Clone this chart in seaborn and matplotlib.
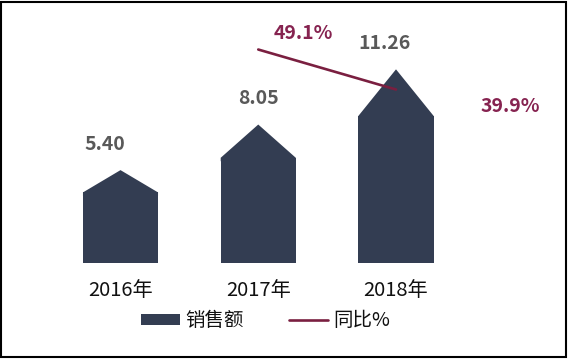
import numpy as np
import pandas as pd
import matplotlib
matplotlib.use('Agg')
import matplotlib.pyplot as plt
from matplotlib.patches import Polygon, Patch, Rectangle
from matplotlib.lines import Line2D
import seaborn as sns

# data
years = ['2016年', '2017年', '2018年']
sales = [5.40, 8.05, 11.26]
yoy_years = [1, 2]          # index of 2017 and 2018
yoy = [49.1, 39.9]
sales_labels = ['5.40', '8.05', '11.26']
yoy_labels = ['49.1%', '39.9%']

bar_color = '#333d52'
line_color = '#7a1f40'
pct_color = '#862350'
value_color = '#595959'
roof = 0.76  # shoulder height as share of the peak

sns.set_theme(style='white')
plt.rcParams['font.family'] = ['Noto Sans CJK SC', 'DejaVu Sans']

W, H = 568, 359
fig = plt.figure(figsize=(W / 100, H / 100), dpi=100)
fig.patch.set_facecolor('white')

# axes bottom sits on the bar baseline
base_px = 263
top_px = 10
ax = fig.add_axes([0, (H - base_px) / H, 1, (base_px - top_px) / H])

df = pd.DataFrame({'year': years, 'sales': sales})
df['shoulder'] = df['sales'] * roof

sns.barplot(data=df, x='year', y='shoulder', color=bar_color, width=0.545,
            saturation=1, linewidth=0, ax=ax)

# roofs on top of each bar
for p, v in zip(ax.patches, df['sales']):
    x0, w, h = p.get_x(), p.get_width(), p.get_height()
    ax.add_patch(Polygon([(x0, h - 0.2), (x0, h), (x0 + w / 2, v),
                          (x0 + w, h), (x0 + w, h - 0.2)],
                         closed=True, facecolor=bar_color, edgecolor='none'))

px_per_cat = 137.75
ax.set_xlim(-120.5 / px_per_cat, (W - 120.5) / px_per_cat)
ax.set_ylim(0, (base_px - top_px) / 17.2)

# value labels above the peaks
label_dx = [-16, 0, -11]
for i, (v, t) in enumerate(zip(df['sales'], sales_labels)):
    ax.annotate(t, (i, v), xytext=(label_dx[i] * 0.72, 26 * 0.72),
                textcoords='offset points', ha='center', va='center',
                fontsize=14, fontweight='bold', color=value_color)

ax.set_xlabel('')
ax.set_ylabel('')
ax.set_yticks([])
ax.tick_params(axis='x', length=0, pad=12.5, labelsize=14.5, labelcolor='#111111')
for lab in ax.get_xticklabels():
    lab.set_fontweight('medium')
for s in ax.spines.values():
    s.set_visible(False)

# year-on-year line on a second scale
ax2 = ax.twinx()
sns.lineplot(x=yoy_years, y=yoy, color=line_color, linewidth=1.9, ax=ax2,
             solid_capstyle='round')
ax2.set_ylim(0, (base_px - top_px) / 4.348)
ax2.set_yticks([])
ax2.set_ylabel('')
for s in ax2.spines.values():
    s.set_visible(False)

pct_offsets = [(45, -16), (114, 17)]
for xi, v, t, (dx, dy) in zip(yoy_years, yoy, yoy_labels, pct_offsets):
    ax2.annotate(t, (xi, v), xytext=(dx * 0.72, -dy * 0.72),
                 textcoords='offset points', ha='center', va='center',
                 fontsize=14, fontweight='bold', color=pct_color)

handles = [Patch(facecolor=bar_color, edgecolor='none'),
           Line2D([], [], color=line_color, linewidth=1.9)]
fig.legend(handles, ['销售额', '同比%'], loc='center',
           bbox_to_anchor=(265.5 / W, 1 - 321 / H), ncol=2, frameon=False,
           prop={'size': 14, 'weight': 'medium'}, handlelength=2.0,
           handleheight=0.55, handletextpad=0.3, columnspacing=2.3,
           labelcolor='#111111')

# thin black frame round the picture
fig.add_artist(Rectangle((1 / W, 2 / H), 565 / W, 355 / H, transform=fig.transFigure,
                         fill=False, edgecolor='black', linewidth=1.5))

fig.savefig('out.png', dpi=100)
